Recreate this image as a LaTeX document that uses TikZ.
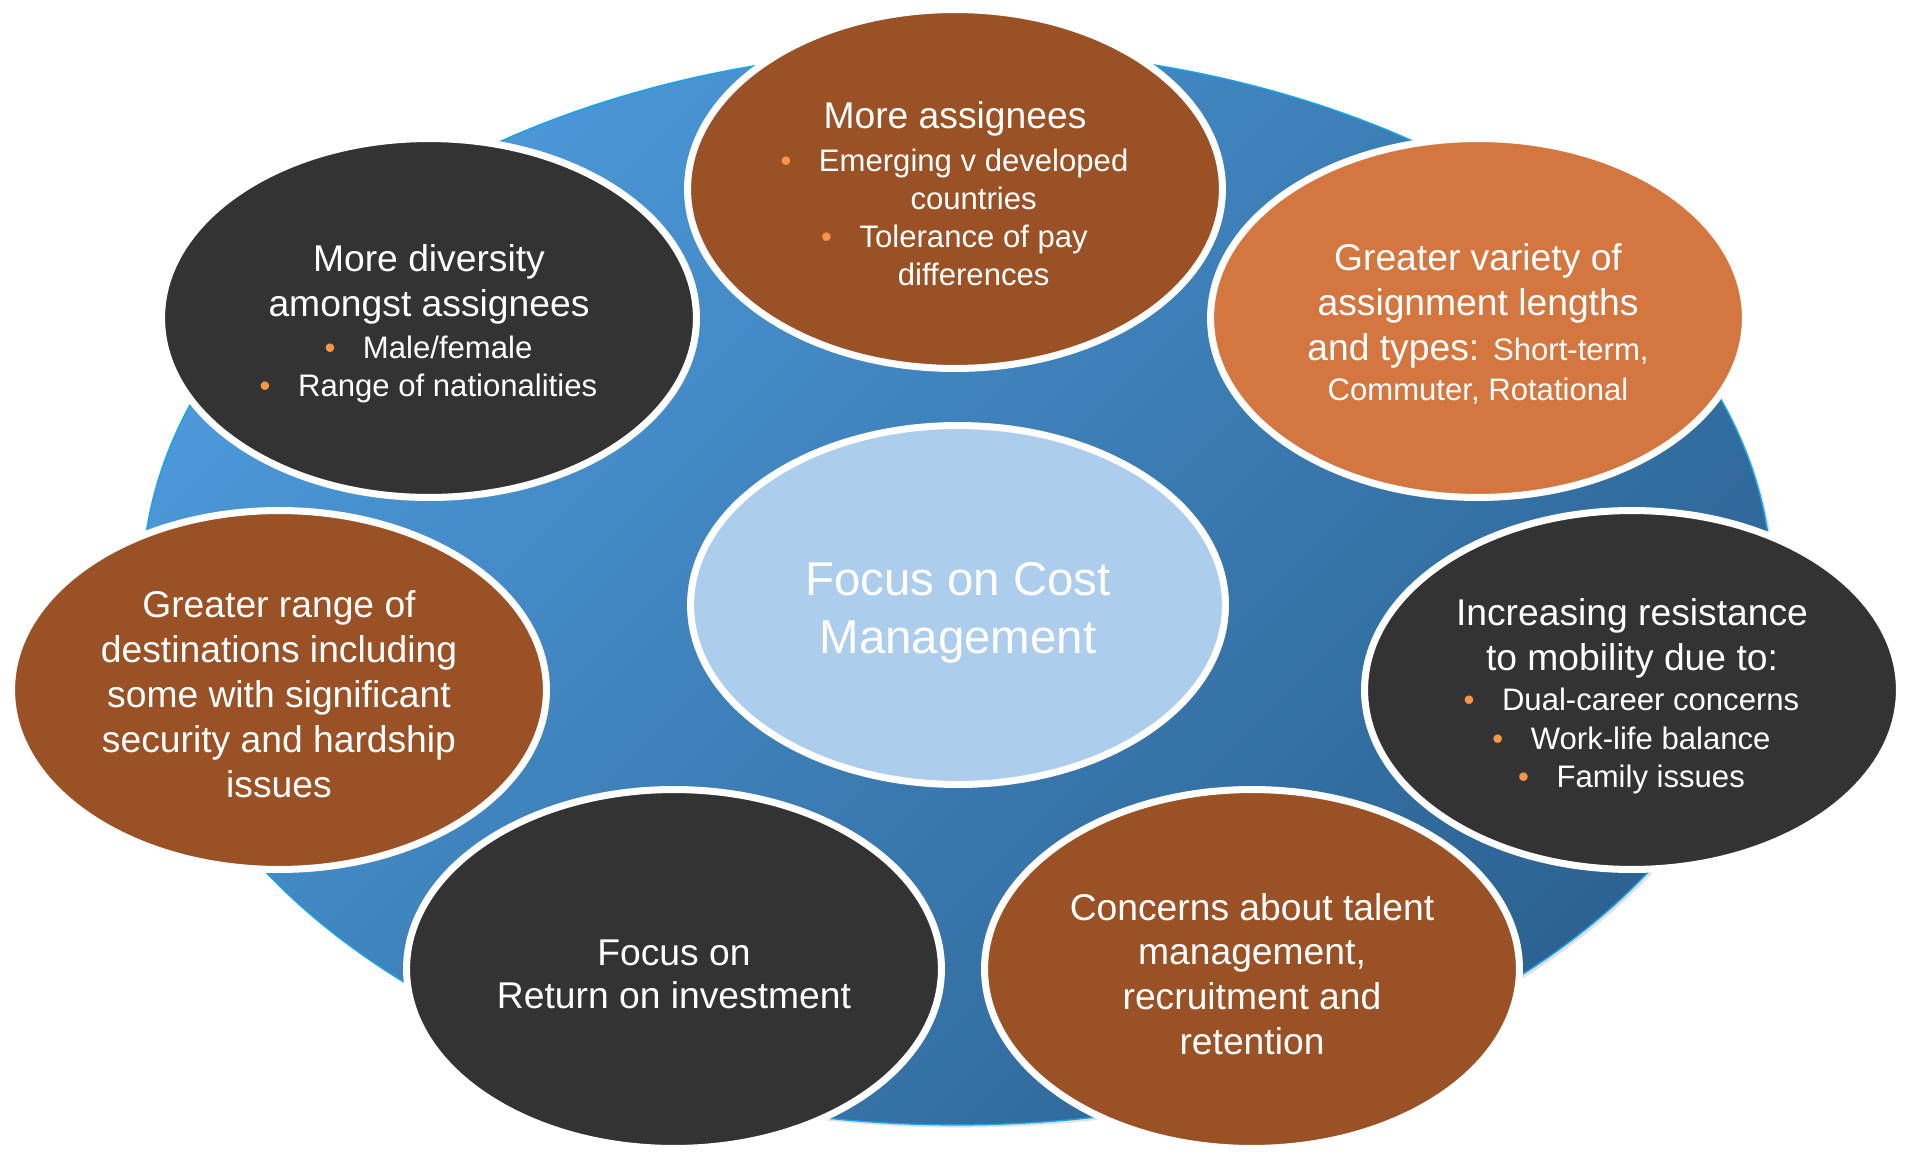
\documentclass[tikz,border=0pt]{standalone}
\usepackage{fontspec}
\setmainfont{Liberation Sans}
\usetikzlibrary{shapes.geometric,shadows}

\definecolor{wheelhi}{HTML}{4C98D9}
\definecolor{wheello}{HTML}{2C6392}
\definecolor{wheeledge}{HTML}{18A4E8}
\definecolor{rust}{HTML}{9A5125}
\definecolor{copper}{HTML}{D4763F}
\definecolor{charcoal}{HTML}{333333}
\definecolor{paleblue}{HTML}{ACCDEB}
\definecolor{dotorange}{HTML}{F79646}

% heading lines and smaller lines inside one bubble
\newcommand{\hd}[1]{{\fontsize{21.2}{25.5}\selectfont #1}}
\newcommand{\sm}[1]{{\fontsize{17.7}{21.6}\selectfont #1}}
% bullet hanging left of a centred line, and the matching indent
\newcommand{\bul}{\hspace*{1.2em}\llap{\textcolor{dotorange}{\textbullet}\hspace{0.885em}}}
\newcommand{\ind}{\hspace*{1.2em}}
% taller first line, pushes the block a little lower in its bubble
\newcommand{\up}[1][21pt]{\rule{0pt}{#1}}

\begin{document}
\begin{tikzpicture}[x=0.02cm,y=-0.02cm,
  bubble/.style={ellipse,draw=white,line width=4pt,inner sep=0pt,
    minimum width=10.7cm,minimum height=7.18cm,align=center,text=white,
    drop shadow={opacity=0.3,shadow xshift=1.2pt,shadow yshift=-1.2pt}},
  headtxt/.style={font=\fontsize{21.2}{25.5}\selectfont},
  listtxt/.style={font=\fontsize{17.7}{21.6}\selectfont}]
\useasboundingbox (0,0) rectangle (1917,1156);
\fill [white] (0,0) rectangle (1917,1156);

% the big blue disc behind everything
\node [ellipse,inner sep=0pt,minimum width=32.6cm,minimum height=21.52cm,
  top color=wheelhi,bottom color=wheello,shading angle=45,
  draw=wheeledge,line width=0.8pt,
  drop shadow={opacity=0.25,shadow xshift=1.5pt,shadow yshift=-1.5pt}]
  (wheel) at (957,587) {};

\node [bubble,fill=paleblue,font=\fontsize{27}{32.7}\selectfont] (cost) at (958,605)
  {\up[28pt]Focus on Cost\\Management};

% outer ring, clockwise from the top
\node [bubble,fill=rust,listtxt] (assignees) at (955,189)
  {\up\hd{More assignees}\\[2.8pt]
   \bul Emerging v developed\\
   \ind countries\\
   \bul Tolerance of pay\\
   \ind differences};
\node [bubble,fill=copper,headtxt] (variety) at (1478,318)
  {\up[22pt]Greater variety of\\
   assignment lengths\\
   and types: \sm{Short-term,}\\[-2.8pt]
   \sm{Commuter, Rotational}};
\node [bubble,fill=charcoal,listtxt] (resist) at (1632,690)
  {\up[22pt]\hd{Increasing resistance}\\[4pt]
   \hd{to mobility due to:}\\[1.3pt]
   \bul Dual-career concerns\\[0.6pt]
   \bul Work-life balance\\
   \bul Family issues};
\node [bubble,fill=rust,headtxt] (talent) at (1252,969)
  {\up Concerns about talent\\
   management,\\
   recruitment and\\
   retention};
\node [bubble,fill=charcoal,headtxt] (roi) at (674,969)
  {\up Focus on\\[-1pt]
   Return on investment};
\node [bubble,fill=rust,headtxt] (destinations) at (279,690)
  {\up[20pt]Greater range of\\
   destinations including\\
   some with significant\\
   security and hardship\\
   issues};
\node [bubble,fill=charcoal,listtxt] (diversity) at (429,318)
  {\up[22pt]\hd{More diversity}\\[4pt]
   \hd{amongst assignees}\\[2pt]
   \bul Male/female\\
   \bul Range of nationalities};
\end{tikzpicture}
\end{document}
